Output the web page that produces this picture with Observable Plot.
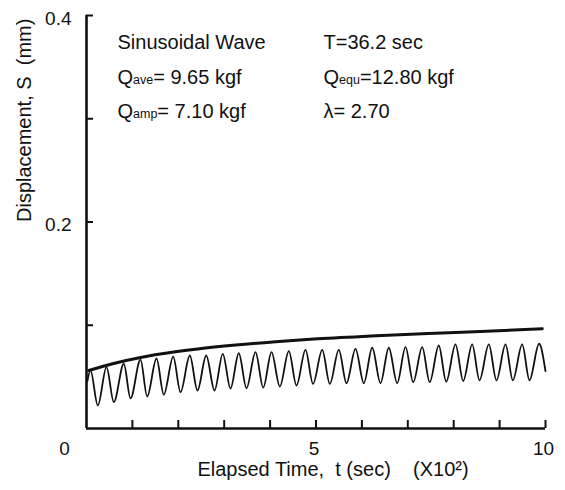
<!DOCTYPE html>
<html>
<head>
<meta charset="utf-8">
<script src="https://cdn.jsdelivr.net/npm/d3@7"></script>
<script src="https://cdn.jsdelivr.net/npm/@observablehq/plot@0.6"></script>
<style>
  html, body { margin: 0; padding: 0; background: #fff; }
  svg { display: block; }
</style>
</head>
<body>
<div id="chart"></div>
<script>
// ---- data ----
// sinusoidal displacement trace: time (x100 s) and displacement (mm) at its turning points
const waveTime = [0.02, 0.087, 0.246, 0.436, 0.595, 0.813, 0.959, 1.176, 1.322, 1.525, 1.684, 1.889, 2.048,
  2.251, 2.418, 2.608, 2.789, 2.969, 3.137, 3.318, 3.486, 3.682, 3.850, 4.031, 4.212, 4.408, 4.575,
  4.771, 4.935, 5.136, 5.301, 5.497, 5.664, 5.861, 6.042, 6.225, 6.405, 6.586, 6.769, 6.950, 7.118,
  7.314, 7.477, 7.675, 7.837, 8.039, 8.207, 8.403, 8.562, 8.765, 8.932, 9.129, 9.288, 9.492, 9.651,
  9.860, 10.0];
const waveDisp = [0.046, 0.0562, 0.0223, 0.0594, 0.0255, 0.0627, 0.0291, 0.0668, 0.0310, 0.0678, 0.0329, 0.0697, 0.0352,
  0.0707, 0.0368, 0.0707, 0.0368, 0.0723, 0.0387, 0.0729, 0.0390, 0.0739, 0.0395, 0.0739, 0.0407, 0.0749, 0.0416,
  0.0762, 0.0433, 0.0762, 0.0433, 0.0762, 0.0439, 0.0772, 0.0439, 0.0782, 0.0439, 0.0782, 0.0439, 0.0788, 0.0449,
  0.0788, 0.0449, 0.0804, 0.0453, 0.0814, 0.0460, 0.0815, 0.0467, 0.0815, 0.0467, 0.0815, 0.0467, 0.0815, 0.0467,
  0.0821, 0.0555];
// upper (bold) envelope curve
const envTime = [0.05, 0.59, 1.18, 1.90, 2.42, 3.25, 4.12, 4.95, 6.19, 7.45, 8.84, 9.93];
const envDisp = [0.0562, 0.0630, 0.0688, 0.0740, 0.0770, 0.0808, 0.0840, 0.0866, 0.0895, 0.0920, 0.0945, 0.0966];

const xTicks = [1, 2, 3, 4, 5, 6, 7, 8, 9, 10];
const xTickLabels = [5, 10];
const yTicks = [0.1, 0.2, 0.3, 0.4];
const yTickLabels = [0.2, 0.4];
const originLabel = ["0"];

const xLabel = "Elapsed Time,\u00A0 t (sec)\u00A0\u00A0\u00A0 (X10\u00B2)";
const yLabel = "Displacement, S\u00A0 (mm)";
const titleNote = ["Sinusoidal Wave"];
const periodNote = ["T=36.2 sec"];
const lambdaNote = ["\u03BB= 2.70"];
const qSymbols = ["Q", "Q", "Q"];
const qSubs = ["ave", "amp", "equ"];
const qValues = ["= 9.65 kgf", "= 7.10 kgf", "=12.80 kgf"];

// ---- build tables ----
const wave = waveTime.map((t, i) => ({t, s: waveDisp[i]}));
const env = envTime.map((t, i) => ({t, s: envDisp[i]}));
const qNotes = qSymbols.map((q, i) => q + qSubs[i] + qValues[i]);

const ink = "#111";
const font = "'Liberation Sans', Arial, Helvetica, sans-serif";

const chart = Plot.plot({
  width: 565,
  height: 490,
  marginLeft: 86,
  marginRight: 20,
  marginTop: 15,
  marginBottom: 62,
  x: {domain: [0, 10], axis: null},
  y: {domain: [0, 0.4], axis: null},
  style: {fontFamily: font, color: ink, background: "#fff"},
  marks: [
    // axes
    Plot.ruleX([0], {y1: 0, y2: 0.4, stroke: ink, strokeWidth: 2.6}),
    Plot.ruleY([0], {x1: 0, x2: 10, stroke: ink, strokeWidth: 2.6}),
    // inward ticks
    Plot.ruleX(xTicks, {x: d => d, y1: 0, y2: 0, insetTop: -8, stroke: ink, strokeWidth: 2}),
    Plot.ruleY(yTicks, {y: d => d, x1: 0, x2: 0, insetRight: -7, stroke: ink, strokeWidth: 2}),
    // tick labels
    Plot.text(xTickLabels, {x: d => d, y: 0, text: d => String(d), dy: 20, dx: -2, fontSize: 19, fill: ink}),
    Plot.text(originLabel, {x: 0, y: 0, text: d => d, dy: 20, dx: -22, fontSize: 19, fill: ink}),
    Plot.text(yTickLabels, {x: 0, y: d => d, text: d => d.toFixed(1), textAnchor: "end", dx: -15, dy: 3, fontSize: 19, fill: ink}),
    // axis titles
    Plot.text([xLabel], {frameAnchor: "bottom", text: d => d, dy: 47, dx: 17, fontSize: 20, fill: ink}),
    Plot.text([yLabel], {frameAnchor: "left", text: d => d, rotate: -90, dx: -62, fontSize: 20, fill: ink}),
    // data
    Plot.line(wave, {x: "t", y: "s", curve: "monotone-x", stroke: ink, strokeWidth: 1.8}),
    Plot.line(env, {x: "t", y: "s", curve: "monotone-x", stroke: ink, strokeWidth: 3}),
    // annotations
    Plot.text(titleNote, {x: 0.675, y: 0.3739, text: d => d, textAnchor: "start", fontSize: 20, fill: ink}),
    Plot.text([qNotes[0]], {x: 0.675, y: 0.3395, text: d => d, textAnchor: "start", fontSize: 20, fill: ink}),
    Plot.text([qNotes[1]], {x: 0.675, y: 0.3070, text: d => d, textAnchor: "start", fontSize: 20, fill: ink}),
    Plot.text(periodNote, {x: 5.163, y: 0.3739, text: d => d, textAnchor: "start", fontSize: 20, fill: ink}),
    Plot.text([qNotes[2]], {x: 5.163, y: 0.3395, text: d => d, textAnchor: "start", fontSize: 20, fill: ink}),
    Plot.text(lambdaNote, {x: 5.163, y: 0.3070, text: d => d, textAnchor: "start", fontSize: 20, fill: ink})
  ]
});

// turn the Q labels into symbol + small subscript + value
d3.select(chart).selectAll("text").each(function() {
  const i = qNotes.indexOf(this.textContent);
  if (i < 0) return;
  const t = d3.select(this);
  t.text(null);
  t.append("tspan").text(qSymbols[i]);
  t.append("tspan").attr("font-size", 12.5).text(qSubs[i]);
  t.append("tspan").text(qValues[i]);
});

document.getElementById("chart").appendChild(chart);
</script>
</body>
</html>
